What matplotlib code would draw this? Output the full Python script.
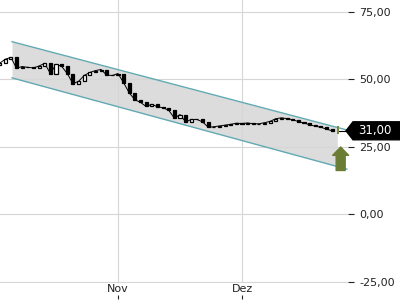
import matplotlib
matplotlib.use("Agg")
import matplotlib.pyplot as plt
import numpy as np
import pandas as pd
from matplotlib.patches import Polygon
from matplotlib.ticker import FuncFormatter
from matplotlib.transforms import IdentityTransform

plt.rcParams.update({"font.family": "DejaVu Sans", "font.size": 8})

# daily closes, one per trading day (evenly spaced on the axis)
dates = pd.bdate_range("2022-10-03", periods=61)
closes = [56.0, 57.5, 58.2, 54.2, 54.8, 54.5, 54.3, 55.0, 56.0, 52.2,
          55.6, 54.9, 52.2, 48.5, 49.3, 51.5, 52.6, 53.3, 53.7, 51.6,
          51.5, 52.2, 48.8, 45.0, 42.5, 41.5, 40.0, 40.8, 39.9, 39.5,
          38.6, 35.7, 37.0, 34.3, 35.2, 35.2, 34.3, 32.3, 32.5, 32.8,
          33.1, 33.4, 33.8, 33.7, 33.9, 33.6, 33.6, 34.0, 34.5, 35.5,
          35.8, 35.5, 35.1, 34.4, 33.9, 33.2, 32.7, 32.3, 31.6, 31.0,
          31.0]
opens = [55.5] + closes[:-1]
last_high, last_low = 32.6, 29.9
last_price = 31.00

# trend channel (start/end index, upper and lower values)
chan_x = [2.2, 61.6]
chan_upper = [64.0, 31.3]
chan_lower = [50.6, 16.8]
fill_end = 59.9

# buy-signal arrow
arrow_top, arrow_bottom = 25.0, 16.3

yticks = [-25, 0, 25, 50, 75]
month_names = {11: "Nov", 12: "Dez"}

x = np.arange(len(closes))
fig = plt.figure(figsize=(4, 3), dpi=100)
ax = fig.add_axes([0, 17 / 300, 348 / 400, 283 / 300])
ax.set_xlim(0.07, 61.8)
ax.set_ylim(-25.37, 79.44)

# channel
fx = np.linspace(chan_x[0], fill_end, 50)
ax.fill_between(fx, np.interp(fx, chan_x, chan_lower),
                np.interp(fx, chan_x, chan_upper),
                color="#dcdcdc", lw=0, zorder=0.2)
ax.plot(chan_x, chan_upper, color="#62aab3", lw=1, zorder=1)
ax.plot(chan_x, chan_lower, color="#62aab3", lw=1, zorder=1)

# candles
ax.plot(x[:-1], closes[:-1], color="black", lw=0.7, zorder=1.5)
o = np.array(opens[:-1])
c = np.array(closes[:-1])
up = c >= o
ax.bar(x[:-1][up], (c - o)[up], bottom=o[up], width=0.55, color="white",
       edgecolor="black", lw=0.9, zorder=2)
ax.bar(x[:-1][~up], (c - o)[~up], bottom=o[~up], width=0.55, color="black",
       edgecolor="black", lw=0.9, zorder=2)
ax.bar(x[-1], last_high - last_low, bottom=last_low, width=0.36,
       color="#7a8a3a", lw=0, zorder=3)
ax.hlines(last_price, x[-1], 61.8, color="black", lw=0.8, zorder=2)

# arrow
ax.annotate("", xy=(60.5, arrow_top), xytext=(60.5, arrow_bottom),
            arrowprops=dict(arrowstyle="simple,head_width=1.15,head_length=0.6,"
                                       "tail_width=0.65",
                            color="#6b7d35", shrinkA=0, shrinkB=0,
                            mutation_scale=10), zorder=4)

# axes styling
ax.set_yticks(yticks)
ax.yaxis.set_major_formatter(FuncFormatter(lambda v, p: f"{v:.2f}".replace(".", ",")))
ax.yaxis.tick_right()
ax.tick_params(axis="y", length=4, width=0.8, pad=4, colors="#222222")
mpos = [i for i in range(1, len(dates)) if dates[i].month != dates[i - 1].month]
ax.set_xticks(mpos, [month_names[dates[i].month] for i in mpos])
ax.tick_params(axis="x", length=0, pad=1, colors="#222222")
ax.vlines(mpos, -0.058, -0.043, transform=ax.get_xaxis_transform(),
          color="#222222", lw=0.8, clip_on=False)
for s in ax.spines.values():
    s.set_visible(False)
ax.grid(True, color="#d6d6d6", lw=0.8)
ax.set_axisbelow(True)

# last price label
fig.canvas.draw()
yd = ax.transData.transform((0, last_price))[1]
xd = ax.transAxes.transform((1, 0))[0]
h = 9
poly = Polygon([(xd - 2, yd), (xd + 5, yd + h), (400, yd + h), (400, yd - h),
                (xd + 5, yd - h)], closed=True, color="black",
               transform=IdentityTransform(), clip_on=False)
fig.add_artist(poly)
fig.text(358 / 400, yd / 300, "31,00", color="white", ha="left", va="center",
         fontsize=8.5)

fig.savefig("out.png", dpi=100)
